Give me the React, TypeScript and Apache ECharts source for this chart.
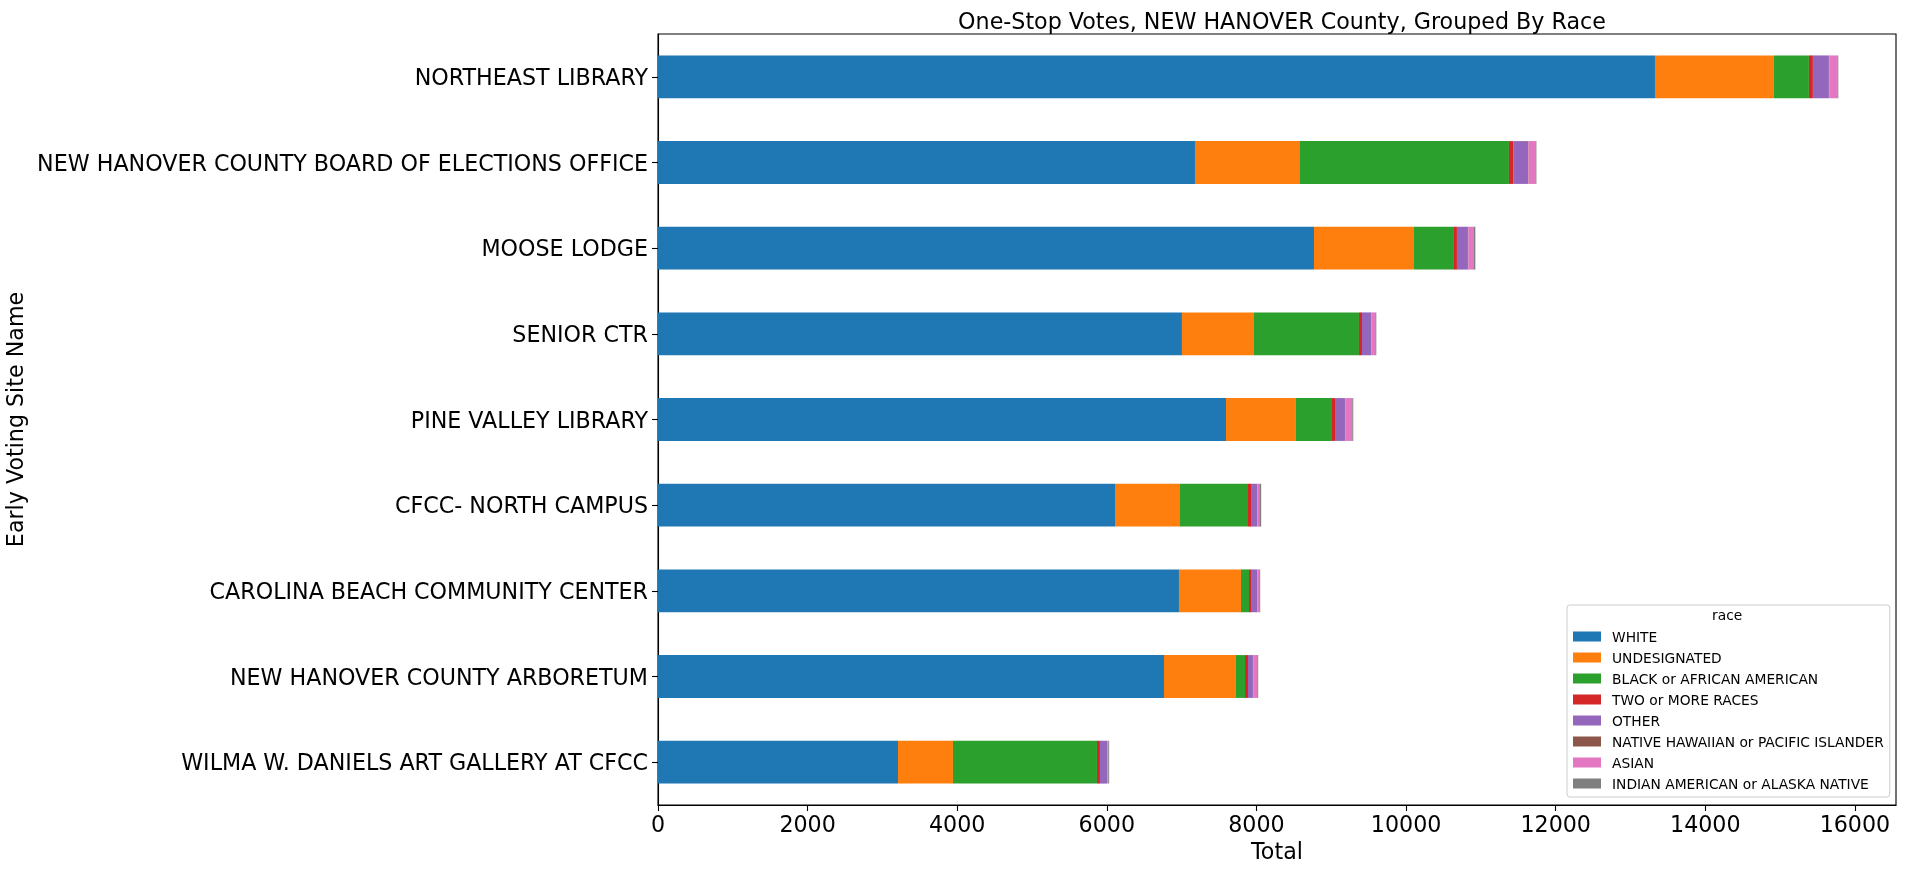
import React, { useEffect, useRef } from "react";
import * as echarts from "echarts";

const categories = [
  "WILMA W. DANIELS ART GALLERY AT CFCC",
  "NEW HANOVER COUNTY ARBORETUM",
  "CAROLINA BEACH COMMUNITY CENTER",
  "CFCC- NORTH CAMPUS",
  "PINE VALLEY LIBRARY",
  "SENIOR CTR",
  "MOOSE LODGE",
  "NEW HANOVER COUNTY BOARD OF ELECTIONS OFFICE",
  "NORTHEAST LIBRARY",
];

const raceNames = [
  "WHITE",
  "UNDESIGNATED",
  "BLACK or AFRICAN AMERICAN",
  "TWO or MORE RACES",
  "OTHER",
  "NATIVE HAWAIIAN or PACIFIC ISLANDER",
  "ASIAN",
  "INDIAN AMERICAN or ALASKA NATIVE",
];

const white = [3208, 6764, 6964, 6109, 7593, 7004, 8769, 7178, 13327];
const undesignated = [735, 962, 829, 869, 935, 963, 1337, 1404, 1590];
const black = [1925, 121, 107, 909, 482, 1403, 534, 2793, 468];
const twoOrMore = [40, 40, 27, 40, 40, 41, 40, 63, 53];
const other = [94, 66, 80, 80, 133, 120, 147, 194, 214];
const nativeHawaiian = [3, 3, 3, 3, 4, 4, 5, 5, 6];
const asian = [13, 54, 27, 27, 94, 53, 67, 91, 107];
const indianAmerican = [13, 13, 13, 26, 13, 14, 27, 14, 13];

const xTicks = { min: 0, max: 16549, interval: 2000 };

const colors = ["#1f77b4", "#ff7f0e", "#2ca02c", "#d62728", "#9467bd", "#8c564b", "#e377c2", "#7f7f7f"];
const FONT = "DejaVu Sans";

export default function App() {
  const ref = useRef<HTMLDivElement>(null);
  useEffect(() => {
    if (!ref.current) return;
    const chart = echarts.init(ref.current, null, { renderer: "svg" });
    const seriesData = [white, undesignated, black, twoOrMore, other, nativeHawaiian, asian, indianAmerican];
    chart.setOption({
      animation: false,
      textStyle: { fontFamily: FONT },
      title: {
        text: "One-Stop Votes, NEW HANOVER County, Grouped By Race",
        left: 1277,
        textAlign: "center",
        top: 5,
        textStyle: { fontFamily: FONT, fontSize: 22.2, fontWeight: "normal", color: "#000" },
      },
      grid: {
        left: 658,
        right: 11,
        top: 34,
        bottom: 64,
        containLabel: false,
        outerBoundsMode: "none",
        show: true,
        borderColor: "#000",
        borderWidth: 1.1,
        backgroundColor: "transparent",
      },
      legend: {
        orient: "vertical",
        left: 1567,
        top: 605,
        padding: [24, 6, 6, 6],
        itemWidth: 28,
        itemHeight: 10,
        itemGap: 6,
        icon: "rect",
        borderColor: "#cccccc",
        borderWidth: 1,
        borderRadius: 3,
        backgroundColor: "rgba(255,255,255,0.8)",
        textStyle: { fontFamily: FONT, fontSize: 13.8, color: "#000", lineHeight: 15, padding: [0, 0, 0, 6] },
        data: raceNames,
      },
      graphic: [
        {
          type: "text",
          left: 1712,
          top: 608,
          z: 100,
          style: { text: "race", fontFamily: FONT, fontSize: 13.8, fill: "#000" },
        },
      ],
      xAxis: {
        type: "value",
        min: xTicks.min,
        max: xTicks.max,
        interval: xTicks.interval,
        name: "Total",
        nameLocation: "middle",
        nameGap: 33,
        nameTextStyle: { fontFamily: FONT, fontSize: 22.2, color: "#000" },
        axisLine: { show: true, lineStyle: { color: "#000", width: 1.1 } },
        axisTick: { show: true, length: 6, lineStyle: { color: "#000", width: 1.1 } },
        axisLabel: {
          fontFamily: FONT,
          fontSize: 22.2,
          color: "#000",
          margin: 8,
          showMaxLabel: false,
          formatter: (v: number) => String(v),
        },
        splitLine: { show: false },
      },
      yAxis: {
        type: "category",
        data: categories,
        name: "Early Voting Site Name",
        nameLocation: "middle",
        nameGap: 624,
        nameTextStyle: { fontFamily: FONT, fontSize: 22.2, color: "#000" },
        axisLine: { show: true, lineStyle: { color: "#000", width: 1.1 } },
        axisTick: { show: true, alignWithLabel: true, length: 6, lineStyle: { color: "#000", width: 1.1 } },
        axisLabel: { fontFamily: FONT, fontSize: 22.2, color: "#000", margin: 10 },
        splitLine: { show: false },
      },
      series: raceNames.map((name, i) => ({
        name,
        type: "bar",
        stack: "total",
        barWidth: "50%",
        data: seriesData[i],
        itemStyle: { color: colors[i] },
        emphasis: { disabled: true },
      })),
    });
    return () => chart.dispose();
  }, []);
  return <div ref={ref} style={{ position: "fixed", left: 0, top: 0, width: 1907, height: 869 }} />;
}
